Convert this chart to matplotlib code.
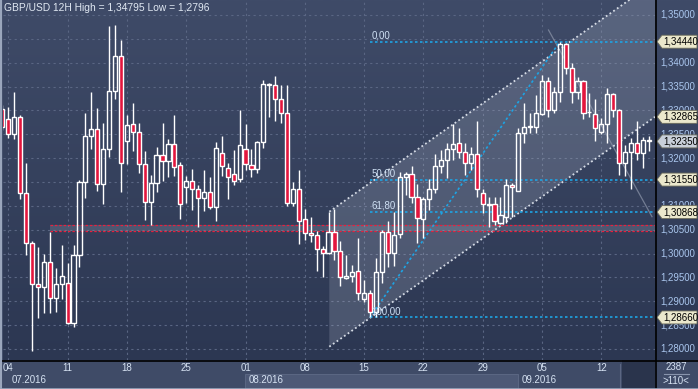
import numpy as np
import matplotlib.pyplot as plt
from matplotlib.patches import Polygon, Rectangle
from matplotlib.colors import LinearSegmentedColormap
from matplotlib import transforms

plt.rcParams['font.family'] = ['Liberation Sans', 'DejaVu Sans']

# ---- data: 12H candles, index 1..110 ----
opens = [1.33023, 1.32813, 1.32499, 1.32855, 1.31262, 1.30214, 1.29355, 1.29292, 1.29816, 1.29075,
         1.29355, 1.29376, 1.28538, 1.29963, 1.31493, 1.32457, 1.32604, 1.31451, 1.32185, 1.33400,
         1.34134, 1.32352, 1.32709, 1.32541, 1.31870, 1.31074, 1.31472, 1.32059, 1.31933, 1.32290,
         1.31849, 1.31401, 1.31514, 1.31359, 1.31158, 1.31283, 1.30982, 1.32101, 1.31786, 1.31661,
         1.31556, 1.32185, 1.31849, 1.31766, 1.32331, 1.33526, 1.33526, 1.33233, 1.32939, 1.31053,
         1.31346, 1.30730, 1.30424, 1.30382, 1.30089, 1.30005, 1.30458, 1.30059, 1.29494, 1.29535,
         1.29634, 1.29053, 1.29166, 1.28781, 1.29607, 1.30445, 1.30017, 1.30403, 1.31598, 1.31667,
         1.31191, 1.30717, 1.31137, 1.31347, 1.31835, 1.31960, 1.32185, 1.32310, 1.32122, 1.31891,
         1.32086, 1.31275, 1.31025, 1.31032, 1.30646, 1.30772, 1.31430, 1.31317, 1.32520, 1.32646,
         1.32646, 1.32925, 1.33623, 1.33008, 1.33379, 1.34392, 1.33883, 1.33392, 1.33616, 1.32956,
         1.32925, 1.32554, 1.32709, 1.33337, 1.33008, 1.31904, 1.32122, 1.32323, 1.32101, 1.32373]
highs = [1.33113, 1.33065, 1.33392, 1.32904, 1.31891, 1.30263, 1.30131, 1.29983, 1.30451, 1.29697,
         1.30173, 1.29795, 1.30173, 1.31541, 1.32939, 1.33392, 1.33050, 1.32730, 1.34779, 1.34795,
         1.34476, 1.32904, 1.33149, 1.32730, 1.32156, 1.31640, 1.32239, 1.32730, 1.32401, 1.32904,
         1.31919, 1.31625, 1.31779, 1.31443, 1.31743, 1.31596, 1.32344, 1.32463, 1.31891, 1.32170,
         1.33008, 1.32715, 1.32185, 1.32358, 1.33637, 1.33568, 1.33721, 1.33532, 1.33532, 1.31500,
         1.31742, 1.30933, 1.30772, 1.30472, 1.30158, 1.30877, 1.30933, 1.30263, 1.29969, 1.29760,
         1.30319, 1.29445, 1.29236, 1.29900, 1.30493, 1.30688, 1.30877, 1.31715, 1.31715, 1.31841,
         1.31457, 1.31191, 1.31562, 1.32086, 1.32170, 1.32323, 1.32715, 1.32625, 1.32310, 1.32239,
         1.32778, 1.31347, 1.31179, 1.31179, 1.31179, 1.31556, 1.31472, 1.32637, 1.33161, 1.32939,
         1.33323, 1.33742, 1.33706, 1.33484, 1.34440, 1.34407, 1.33991, 1.33706, 1.33637, 1.33358,
         1.33233, 1.32847, 1.33463, 1.33371, 1.33023, 1.32275, 1.32415, 1.32784, 1.32449, 1.32463]
lows = [1.32589, 1.32415, 1.32394, 1.31137, 1.29975, 1.27960, 1.28642, 1.28747, 1.28760, 1.28781,
        1.29041, 1.28530, 1.28466, 1.29724, 1.31170, 1.32191, 1.31317, 1.31032, 1.32023, 1.33245,
        1.31296, 1.31870, 1.32156, 1.31694, 1.30700, 1.30598, 1.31296, 1.31527, 1.31610, 1.31631,
        1.30733, 1.31066, 1.30912, 1.30550, 1.30897, 1.30927, 1.30688, 1.31625, 1.31149, 1.31437,
        1.31495, 1.31758, 1.31610, 1.31694, 1.32206, 1.32855, 1.32784, 1.32742, 1.31003, 1.31003,
        1.30194, 1.30284, 1.30248, 1.29640, 1.29514, 1.29990, 1.29864, 1.29319, 1.29466, 1.29410,
        1.29026, 1.28990, 1.28660, 1.28675, 1.29376, 1.29724, 1.29739, 1.30332, 1.31227, 1.31053,
        1.30227, 1.30332, 1.30912, 1.31262, 1.31694, 1.31577, 1.31960, 1.31996, 1.31646, 1.31751,
        1.31191, 1.30843, 1.30562, 1.30598, 1.30626, 1.30634, 1.30772, 1.31317, 1.32310, 1.32520,
        1.32520, 1.32904, 1.32868, 1.32952, 1.33182, 1.33757, 1.33161, 1.33232, 1.32813, 1.32855,
        1.32365, 1.32505, 1.32310, 1.32855, 1.31646, 1.31625, 1.31353, 1.31960, 1.31786, 1.32149]
closes = [1.32646, 1.32499, 1.32855, 1.31262, 1.30214, 1.29355, 1.29292, 1.29816, 1.29062, 1.29355,
          1.29523, 1.28538, 1.29963, 1.31493, 1.32457, 1.32604, 1.31451, 1.32185, 1.33400, 1.34134,
          1.31891, 1.32688, 1.32541, 1.31870, 1.31074, 1.31472, 1.32059, 1.31933, 1.32290, 1.31807,
          1.31032, 1.31514, 1.31359, 1.31158, 1.31283, 1.30982, 1.32206, 1.31841, 1.31610, 1.31528,
          1.32268, 1.31883, 1.31766, 1.32331, 1.33547, 1.33547, 1.33233, 1.32939, 1.31053, 1.31346,
          1.30676, 1.30424, 1.30382, 1.30089, 1.30005, 1.30458, 1.30059, 1.29502, 1.29535, 1.29607,
          1.29166, 1.29166, 1.28781, 1.29607, 1.30458, 1.30017, 1.30388, 1.31598, 1.31667, 1.31191,
          1.30738, 1.31137, 1.31347, 1.31835, 1.31960, 1.32185, 1.32296, 1.32122, 1.31891, 1.32086,
          1.31347, 1.31032, 1.31032, 1.30682, 1.30801, 1.31430, 1.31388, 1.32520, 1.32658, 1.32667,
          1.32939, 1.33623, 1.33008, 1.33379, 1.34392, 1.33895, 1.33392, 1.33616, 1.32939, 1.32966,
          1.32637, 1.32709, 1.33337, 1.33008, 1.31904, 1.32122, 1.32323, 1.32101, 1.32373, 1.32350]

week_idx = [2, 12, 22, 32, 42, 52, 62, 72, 82, 92, 102]
week_lab = ['04', '11', '18', '25', '01', '08', '15', '22', '29', '05', '12']
months = [(2.6, '07.2016'), (42.6, '08.2016'), (88.6, '09.2016')]

# price scale labels (1,34500 and 1,31500 sit fully under tags in the original)
scale_prices = [1.280, 1.285, 1.290, 1.295, 1.300, 1.305, 1.310, 1.320, 1.325, 1.330,
                1.335, 1.340, 1.350]
fib_start, fib_end = 63, 95
fib_levels = [(1.34440, '0,00'), (1.31550, '50,00'), (1.30868, '61,80'), (1.28660, '100,00')]
chan_start, chan_low0, chan_up0, chan_low_end = 56.13, 1.28047, 1.30877, 1.32865
band = (1.30464, 1.30602)
tags = [(1.34440, '#ebe8cc'), (1.32865, '#ebe8cc'), (1.32350, '#c9d0da'),
        (1.31550, '#ebe8cc'), (1.30868, '#ebe8cc'), (1.28660, '#ebe8cc')]

W, H = 698, 389
fig = plt.figure(figsize=(W / 100, H / 100), dpi=100)
fig.patch.set_facecolor('#424e6a')

grad = np.linspace(0, 1, 256).reshape(-1, 1)
cm = LinearSegmentedColormap.from_list('bg', ['#2c3752', '#3f4b68'])

# bottom date strip (drawn below the main axes)
bax = fig.add_axes([0, 0, 1, 29 / H], zorder=0)
bax.set_xlim(0, W); bax.set_ylim(29, 0)
bax.set_axis_off()
bax.add_patch(Rectangle((0, 0), W, 29, facecolor='#3f4b67', edgecolor='none'))
bax.add_patch(Rectangle((245, 14), 273, 15, facecolor='#4d5976', edgecolor='#5e6a86', lw=0.6))
bax.add_patch(Rectangle((622, 0), 33, 29, facecolor='#2a344c', edgecolor='none'))
bax.plot([620, 620], [4, 27], color='#5b6682', lw=0.8)
bax.plot([0, W], [0.5, 0.5], color='black', lw=1.2)
bax.plot([664, 689], [14, 14], color='#8894ac', lw=0.8)
bax.text(676, 7, '2387', color='#d6e2f2', fontsize=7, ha='center', va='center')
bax.text(676, 21, '>110<', color='#d6e2f2', fontsize=7, ha='center', va='center')

# right price panel
rax = fig.add_axes([655 / W, 29 / H, 43 / W, 360 / H], zorder=0)
rax.imshow(grad, cmap=cm, extent=[0, 1, 0, 1], aspect='auto', origin='lower')
rax.set_axis_off()

ax = fig.add_axes([3 / W, 29 / H, 652 / W, 360 / H], zorder=2)
x0, x1 = 1.1, 111.06
y0, y1 = 1.27768, 1.35314
ax.set_xlim(x0, x1)
ax.set_ylim(y0, y1)
for s in ax.spines.values():
    s.set_visible(False)
ax.set_xticks([])
ax.set_yticks([])

ax.imshow(grad, cmap=cm, extent=[x0, x1, y0, y1], aspect='auto', origin='lower', zorder=0)

# grid
for w in week_idx:
    ax.axvline(w, color='#5a6683', lw=0.8, ls=(0, (2, 3)), zorder=1)
for p in np.arange(1.280, 1.3501, 0.005):
    ax.axhline(p, color='#5a6683', lw=0.8, ls=(0, (2, 3)), zorder=1)

# channel
xs = np.array([chan_start, x1])
slope = (chan_low_end - chan_low0) / (x1 - chan_start)
low_line = chan_low0 + slope * (xs - chan_start)
up_line = chan_up0 + slope * (xs - chan_start)
ax.add_patch(Polygon([[xs[0], low_line[0]], [xs[1], low_line[1]],
                      [xs[1], up_line[1]], [xs[0], up_line[0]]],
                     closed=True, facecolor='#c4ccdc', alpha=0.2, edgecolor='none', zorder=1.5))
ax.plot(xs, low_line, color='#d6dce6', lw=1.3, ls=(0, (1, 1.5)), zorder=2)
ax.plot(xs, up_line, color='#d6dce6', lw=1.3, ls=(0, (1, 1.5)), zorder=2)
ax.plot([93.1, 110.55], [1.34685, 1.30772], color='#8e97ab', lw=0.9, alpha=0.7, zorder=1.6)

# red band
ax.fill_between([9.0, x1], band[0], band[1], color='#8a93a8', alpha=0.3, lw=0, zorder=1.5)
for b in band:
    ax.plot([9.0, x1], [b, b], color='#e8203e', lw=0.9, ls=(0, (2, 1.5)), zorder=2)

# fibonacci
for lvl, lab in fib_levels:
    ax.plot([fib_start, x1], [lvl, lvl], color='#1ea4e4', lw=1.2, ls=(0, (1.5, 1.5)), zorder=2)
    ax.text(fib_start + 0.25, lvl + 0.0003, lab, color='#cfe0f4', fontsize=7,
            ha='left', va='bottom', zorder=5)
ax.plot([fib_start, fib_end], [fib_levels[3][0], fib_levels[0][0]], color='#1ea4e4',
        lw=1.2, ls=(0, (1.5, 1.5)), zorder=2)

# candles
idx = np.arange(1, len(opens) + 1)
o = np.array(opens); c = np.array(closes); hi = np.array(highs); lo = np.array(lows)
top = np.maximum(o, c); bot = np.minimum(o, c)
ax.vlines(idx, top, hi, color='white', lw=1.0, zorder=3)
ax.vlines(idx, lo, bot, color='white', lw=1.0, zorder=3)
up = c >= o
ax.bar(idx[up], (top - bot)[up], bottom=bot[up], width=0.7, facecolor='none',
       edgecolor='white', linewidth=1.0, zorder=4)
ax.bar(idx[~up], (top - bot)[~up], bottom=bot[~up], width=0.7, facecolor='#e3163d',
       edgecolor='white', linewidth=1.0, zorder=4)

# right price scale labels and tags
bt = transforms.blended_transform_factory(ax.transAxes, ax.transData)
for p in scale_prices:
    ax.text(1.0085, p, f'{p:.5f}'.replace('.', ','), transform=bt, color='#aac6ee',
            fontsize=7, ha='left', va='center', clip_on=False, zorder=6)
px = 1 / 652
ph = 6.5 * (y1 - y0) / 360
for p, col in tags:
    xa, xb, xc = 1 + 2 * px, 1 + 7 * px, 1 + 42 * px
    ax.add_patch(Polygon([[xa, p], [xb, p + ph], [xc, p + ph], [xc, p - ph], [xb, p - ph]],
                         closed=True, transform=bt, facecolor=col, edgecolor='#6a6a5a',
                         lw=0.6, clip_on=False, zorder=7))
    ax.text(1 + 8 * px, p, f'{p:.5f}'.replace('.', ','), transform=bt, color='black',
            fontsize=7, ha='left', va='center', clip_on=False, zorder=8)

# date labels
dt = transforms.blended_transform_factory(ax.transData, ax.transAxes)
for w, lab in zip(week_idx, week_lab):
    ax.text(w, -8 / 360, lab, transform=dt, color='#d6e2f2', fontsize=7,
            ha='center', va='center', clip_on=False, zorder=6)
for m, lab in months:
    ax.text(m, -20 / 360, lab, transform=dt, color='#d6e2f2', fontsize=7,
            ha='left', va='center', clip_on=False, zorder=6)

# separators and borders
fig.add_artist(plt.Line2D([655.5 / W, 655.5 / W], [0, 1], color='black', lw=1.2, zorder=5))
fig.add_artist(plt.Line2D([1 / W, 1 / W], [0, 1], color='#9aa6bc', lw=1.5, zorder=5))
fig.add_artist(plt.Line2D([0, 1], [0.5 / H, 0.5 / H], color='#9aa6bc', lw=1.2, zorder=5))

fig.text(4 / W, 1 - 8 / H, 'GBP/USD 12H High = 1,34795 Low = 1,2796', color='#e0e8f2',
         fontsize=7.4, ha='left', va='center', zorder=6)

fig.savefig('out.png', dpi=100, facecolor=fig.get_facecolor())
